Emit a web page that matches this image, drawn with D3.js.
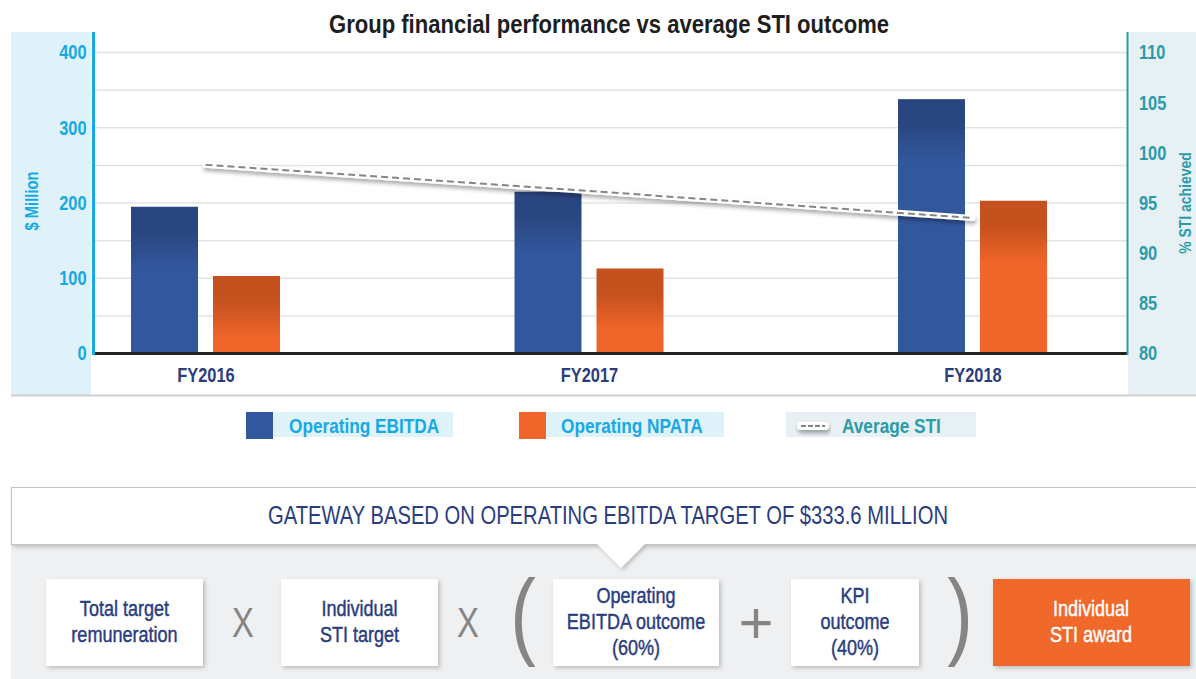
<!DOCTYPE html>
<html>
<head>
<meta charset="utf-8">
<script src="https://cdn.jsdelivr.net/npm/d3@7"></script>
<style>
  html, body { margin: 0; padding: 0; background: #ffffff; }
  svg { display: block; }
  text { font-family: "Liberation Sans", Arial, Helvetica, sans-serif; }
</style>
</head>
<body>
<svg id="chart" width="1196" height="679"></svg>
<script>
// ---------------- data ----------------
const title = "Group financial performance vs average STI outcome";
const categories = ["FY2016", "FY2017", "FY2018"];
const ebitda = [195, 215, 338];          // $ Million
const npata = [103, 113, 203];           // $ Million
const avgSTI = [98.8, 96.2, 93.5];       // % STI achieved
const leftTicks = [0, 100, 200, 300, 400];
const rightTicks = [80, 85, 90, 95, 100, 105, 110];
const gridTicks = [0, 50, 100, 150, 200, 250, 300, 350, 400];
const seriesNames = ["Operating EBITDA", "Operating NPATA", "Average STI"];
const leftAxisTitle = "$ Million";
const rightAxisTitle = "% STI achieved";
const gatewayText = "GATEWAY BASED ON OPERATING EBITDA TARGET OF $333.6 MILLION";
const formulaBoxes = [
  ["Total target", "remuneration"],
  ["Individual", "STI target"],
  ["Operating", "EBITDA outcome", "(60%)"],
  ["KPI", "outcome", "(40%)"]
];
const operators = ["X", "X", "(", "+", ")"];
const resultBox = ["Individual", "STI award"];

// ---------------- layout ----------------
const W = 1196, H = 679;
const COND = 0.82;  // horizontal condensing to mimic a condensed typeface
const plot = { left: 93.5, right: 1127, top: 32, bottom: 353.5, yTop: 52.5 };
const C = {
  cyan: "#16a9e3", teal: "#2a9bab", navy: "#2a3d80", ebitda: "#32579e", ebitdaDark: "#2a4680",
  npata: "#f06529", npataDark: "#c5511f", grid: "#e3e3e3", leftBg: "#dff2fa", rightBg: "#e7f0f3"
};

const svg = d3.select("#chart");
const defs = svg.append("defs");

const shadow = defs.append("filter").attr("id", "shadow").attr("x", "-10%").attr("y", "-10%").attr("width", "130%").attr("height", "140%");
shadow.append("feDropShadow").attr("dx", 2).attr("dy", 2).attr("stdDeviation", 2).attr("flood-color", "#000").attr("flood-opacity", 0.22);
const lineShadow = defs.append("filter").attr("id", "lshadow").attr("x", "-5%").attr("y", "-50%").attr("width", "110%").attr("height", "300%");
lineShadow.append("feDropShadow").attr("dx", 1).attr("dy", 3).attr("stdDeviation", 2).attr("flood-color", "#000").attr("flood-opacity", 0.35);

// scales
const yL = d3.scaleLinear().domain([0, 400]).range([plot.bottom, plot.yTop]);
const yR = d3.scaleLinear().domain([80, 110]).range([plot.bottom, plot.yTop]);
const x = d3.scalePoint().domain(categories).range([205.5, 972.5]);
const xSub = d3.scaleBand().domain(["ebitda", "npata"]).range([-74.5, 74.5]).paddingInner(0.183);

// side panels
svg.append("rect").attr("x", 11).attr("y", plot.top).attr("width", 80).attr("height", 363).attr("fill", C.leftBg);
svg.append("rect").attr("x", 1128).attr("y", plot.top).attr("width", 68).attr("height", 363).attr("fill", C.rightBg);
svg.append("line").attr("x1", 11).attr("x2", W).attr("y1", 395.5).attr("y2", 395.5).attr("stroke", "#cfcfcf").attr("stroke-width", 2);

// gridlines
svg.append("g").selectAll("line").data(gridTicks.slice(1)).join("line")
  .attr("x1", 95).attr("x2", plot.right).attr("y1", d => yL(d)).attr("y2", d => yL(d))
  .attr("stroke", C.grid).attr("stroke-width", 1.5);

// title
svg.append("text").attr("x", 609).attr("y", 33).attr("text-anchor", "middle")
  .attr("font-size", 26).attr("font-weight", "bold").attr("fill", "#1e1e1e")
  .attr("data-w", 560).text(title);

// bars
const seriesData = [ebitda, npata];
const keys = ["ebitda", "npata"];
const colors = [[C.ebitdaDark, C.ebitda], [C.npataDark, C.npata]];
keys.forEach((k, si) => {
  seriesData[si].forEach((v, i) => {
    const top = yL(v);
    const g = defs.append("linearGradient").attr("id", `g-${k}-${i}`).attr("gradientUnits", "userSpaceOnUse")
      .attr("x1", 0).attr("x2", 0).attr("y1", top).attr("y2", top + 62);
    g.append("stop").attr("offset", 0).attr("stop-color", colors[si][0]);
    g.append("stop").attr("offset", 0.4).attr("stop-color", colors[si][0]);
    g.append("stop").attr("offset", 1).attr("stop-color", colors[si][1]);
  });
});
const barG = svg.append("g");
categories.forEach((c, i) => {
  keys.forEach((k, si) => {
    const v = seriesData[si][i];
    barG.append("rect")
      .attr("x", x(c) + xSub(k)).attr("width", xSub.bandwidth())
      .attr("y", yL(v)).attr("height", yL(0) - yL(v))
      .attr("fill", `url(#g-${k}-${i})`);
  });
});

// baseline
svg.append("line").attr("x1", plot.left).attr("x2", plot.right + 1).attr("y1", yL(0)).attr("y2", yL(0))
  .attr("stroke", "#222").attr("stroke-width", 3);

// axis lines
svg.append("line").attr("x1", plot.left).attr("x2", plot.left).attr("y1", plot.top).attr("y2", yL(0) + 1.5)
  .attr("stroke", C.cyan).attr("stroke-width", 3);
svg.append("line").attr("x1", plot.right + 0.5).attr("x2", plot.right + 0.5).attr("y1", plot.top).attr("y2", yL(0) + 1.5)
  .attr("stroke", C.teal).attr("stroke-width", 2);

// left axis (labels only)
const leftAxis = svg.append("g").attr("transform", `translate(${plot.left - 7},0)`)
  .call(d3.axisLeft(yL).tickValues(leftTicks).tickSize(0).tickPadding(0));
leftAxis.select(".domain").remove();
leftAxis.selectAll("text").attr("fill", C.cyan).attr("font-size", 20).attr("font-weight", "bold")
  .attr("font-family", null);

const rightAxis = svg.append("g").attr("transform", `translate(${plot.right + 12},0)`)
  .call(d3.axisRight(yR).tickValues(rightTicks).tickSize(0).tickPadding(0));
rightAxis.select(".domain").remove();
rightAxis.selectAll("text").attr("fill", C.teal).attr("font-size", 20).attr("font-weight", "bold")
  .attr("font-family", null);

// axis titles
svg.append("text").attr("transform", "translate(38,201) rotate(-90)").attr("text-anchor", "middle")
  .attr("font-size", 18).attr("font-weight", "bold").attr("fill", C.cyan).text(leftAxisTitle);
svg.append("text").attr("transform", "translate(1191,203) rotate(-90)").attr("text-anchor", "middle")
  .attr("font-size", 17).attr("font-weight", "bold").attr("fill", C.teal).text(rightAxisTitle);

// x axis labels
const xAxis = svg.append("g").attr("transform", `translate(0,${yL(0) + 14})`)
  .call(d3.axisBottom(x).tickSize(0).tickPadding(0));
xAxis.select(".domain").remove();
xAxis.selectAll("text").attr("fill", "#2b3c7c").attr("font-size", 20).attr("font-weight", "bold")
  .attr("font-family", null);

// STI line
const line = d3.line().x((d, i) => x(categories[i])).y(d => yR(d));
svg.append("path").datum(avgSTI).attr("d", line).attr("fill", "none")
  .attr("stroke", "#fff").attr("stroke-width", 6).attr("stroke-linecap", "round").attr("filter", "url(#lshadow)");
svg.append("path").datum(avgSTI).attr("d", line).attr("fill", "none")
  .attr("stroke", "#858585").attr("stroke-width", 2).attr("stroke-dasharray", "7,4");

// legend
const legend = svg.append("g");
const legItems = [
  { sx: 246, bg: [273, 453], tx: 289, color: C.ebitda, text: C.cyan, bgc: C.leftBg },
  { sx: 519, bg: [546, 724], tx: 561, color: C.npata, text: C.cyan, bgc: C.leftBg },
  { sx: null, bg: [786, 976], tx: 842, color: null, text: C.teal, bgc: C.rightBg }
];
legItems.forEach((d, i) => {
  legend.append("rect").attr("x", d.bg[0]).attr("y", 412).attr("width", d.bg[1] - d.bg[0]).attr("height", 25).attr("fill", d.bgc);
  if (d.color) {
    legend.append("rect").attr("x", d.sx).attr("y", 412).attr("width", 27).attr("height", 27).attr("fill", d.color);
  } else {
    legend.append("rect").attr("x", 797).attr("y", 422).attr("width", 32).attr("height", 8).attr("rx", 4)
      .attr("fill", "#fff").attr("filter", "url(#lshadow)");
    legend.append("line").attr("x1", 801).attr("x2", 825).attr("y1", 426).attr("y2", 426)
      .attr("stroke", "#858585").attr("stroke-width", 2).attr("stroke-dasharray", "5,2");
  }
  legend.append("text").attr("x", d.tx).attr("y", 433).attr("font-size", 21).attr("font-weight", "bold")
    .attr("fill", d.text).text(seriesNames[i]);
});

// ---------------- bottom formula ----------------
const bottom = svg.append("g");
bottom.append("rect").attr("x", 11).attr("y", 520).attr("width", W - 11).attr("height", H - 520).attr("fill", "#eff0f2");
bottom.append("rect").attr("x", 11.5).attr("y", 487.5).attr("width", W).attr("height", 57)
  .attr("fill", "#fff").attr("stroke", "#c4c4c4").attr("stroke-width", 1).attr("filter", "url(#shadow)");
bottom.append("path").attr("d", "M597,544 L621,568 L645,544 Z").attr("fill", "#fff").attr("filter", "url(#shadow)");
bottom.append("rect").attr("x", 592).attr("y", 538).attr("width", 58).attr("height", 6).attr("fill", "#fff");
bottom.append("text").attr("x", 608).attr("y", 524).attr("text-anchor", "middle").attr("font-size", 25)
  .attr("fill", C.navy).attr("data-w", 680).text(gatewayText);

const boxes = [[46, 203], [281, 438], [553, 719], [791, 919]];
boxes.forEach((b, i) => {
  bottom.append("rect").attr("x", b[0]).attr("y", 579).attr("width", b[1] - b[0]).attr("height", 87)
    .attr("fill", "#fff").attr("filter", "url(#shadow)");
  const lines = formulaBoxes[i];
  const cx = (b[0] + b[1]) / 2;
  const start = lines.length === 3 ? 603 : 616;
  lines.forEach((t, j) => {
    bottom.append("text").attr("x", cx).attr("y", start + j * 26).attr("text-anchor", "middle")
      .attr("font-size", 22).attr("fill", C.navy).attr("stroke", C.navy).attr("stroke-width", 0.45).text(t);
  });
});
bottom.append("rect").attr("x", 993).attr("y", 579).attr("width", 197).attr("height", 87)
  .attr("fill", "#f0672a").attr("filter", "url(#shadow)");
resultBox.forEach((t, j) => {
  bottom.append("text").attr("x", 1091).attr("y", 616 + j * 26).attr("text-anchor", "middle")
    .attr("font-size", 22).attr("fill", "#fff").attr("stroke", "#fff").attr("stroke-width", 0.45).text(t);
});
// operators: [x, fontSize, baseline, condense]
const opPos = [[243, 42, 637, 0.78], [468, 42, 637, 0.78], [523, 96, 647, 0.8], [756, 60, 643, 1], [960, 96, 647, 0.8]];
operators.forEach((o, i) => {
  bottom.append("text").attr("x", opPos[i][0]).attr("y", opPos[i][2]).attr("text-anchor", "middle")
    .attr("font-size", opPos[i][1]).attr("fill", "#858585")
    .attr("data-c", opPos[i][3]).text(o);
});

// condense every text horizontally
svg.selectAll("text").each(function () {
  const el = d3.select(this);
  const len = this.getComputedTextLength();
  if (!len) return;
  const w = el.attr("data-w");
  const c = el.attr("data-c");
  const target = w ? +w : len * (c ? +c : COND);
  el.attr("textLength", target).attr("lengthAdjust", "spacingAndGlyphs");
});
</script>
</body>
</html>
